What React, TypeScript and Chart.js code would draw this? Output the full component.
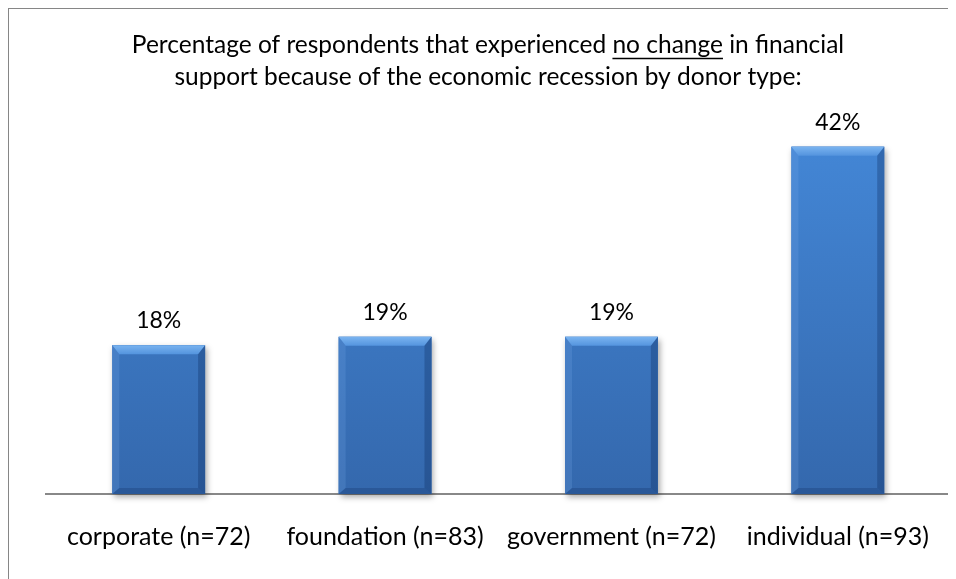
import React, { useEffect, useRef } from 'react';
import { Chart, registerables } from 'chart.js';
Chart.register(...registerables);

const categories = ['corporate (n=72)', 'foundation (n=83)', 'government (n=72)', 'individual (n=93)'];
const values = [18, 19, 19, 42];
const titleLines = [
  'Percentage of respondents that experienced no change in financial',
  'support because of the economic recession by donor type:',
];
const underlinedPhrase = 'no change';
const yMax = 45.1;

const FONT = 'Lato, "Open Sans", sans-serif';
const TITLE_SIZE = 24.5;
const LABEL_SIZE = 25;
const VALUE_SIZE = 23;

const shadowPlugin = {
  id: 'barShadow',
  beforeDatasetsDraw(chart: any) {
    const ctx = chart.ctx;
    const meta = chart.getDatasetMeta(0);
    ctx.save();
    meta.data.forEach((bar: any) => {
      const { x, y, base, width } = bar.getProps(['x', 'y', 'base', 'width'], true);
      ctx.shadowColor = 'rgba(0,0,0,0.35)';
      ctx.shadowBlur = 6;
      ctx.shadowOffsetX = 2;
      ctx.shadowOffsetY = 3;
      ctx.fillStyle = '#3a74c0';
      ctx.fillRect(x - width / 2, y, width, base - y);
    });
    ctx.restore();
  },
};

const bevelPlugin = {
  id: 'bevel',
  afterDatasetsDraw(chart: any) {
    const ctx = chart.ctx;
    const meta = chart.getDatasetMeta(0);
    meta.data.forEach((bar: any, i: number) => {
      const { x, y, base, width } = bar.getProps(['x', 'y', 'base', 'width'], true);
      const l = x - width / 2, r = x + width / 2, t = y, b = base;
      const bt = 9, bs = 7, bb = 6;
      ctx.save();
      const gt = ctx.createLinearGradient(0, t, 0, t + bt);
      gt.addColorStop(0, '#7ab4f0');
      gt.addColorStop(1, '#5494de');
      ctx.fillStyle = gt;
      ctx.beginPath();
      ctx.moveTo(l, t); ctx.lineTo(r, t); ctx.lineTo(r - bs, t + bt); ctx.lineTo(l + bs, t + bt); ctx.closePath();
      ctx.fill();
      ctx.fillStyle = 'rgba(120,170,230,0.22)';
      ctx.beginPath();
      ctx.moveTo(l, t); ctx.lineTo(l + bs, t + bt); ctx.lineTo(l + bs, b - bb); ctx.lineTo(l, b); ctx.closePath();
      ctx.fill();
      ctx.fillStyle = 'rgba(10,40,90,0.3)';
      ctx.beginPath();
      ctx.moveTo(r, t); ctx.lineTo(r - bs, t + bt); ctx.lineTo(r - bs, b - bb); ctx.lineTo(r, b); ctx.closePath();
      ctx.fill();
      ctx.fillStyle = 'rgba(10,40,90,0.25)';
      ctx.beginPath();
      ctx.moveTo(l, b); ctx.lineTo(l + bs, b - bb); ctx.lineTo(r - bs, b - bb); ctx.lineTo(r, b); ctx.closePath();
      ctx.fill();
      ctx.fillStyle = '#000';
      ctx.font = `${VALUE_SIZE}px ${FONT}`;
      ctx.textAlign = 'center';
      ctx.textBaseline = 'alphabetic';
      ctx.fillText(`${values[i]}%`, x, t - 17);
      ctx.restore();
    });
  },
};

const titlePlugin = {
  id: 'customTitle',
  afterDraw(chart: any) {
    const ctx = chart.ctx;
    const cx = chart.width / 2 + 5.5;
    const baselines = [43.5, 76];
    ctx.save();
    ctx.font = `${TITLE_SIZE}px ${FONT}`;
    ctx.fillStyle = '#000';
    ctx.textAlign = 'center';
    ctx.textBaseline = 'alphabetic';
    titleLines.forEach((line, i) => ctx.fillText(line, cx, baselines[i]));
    const line = titleLines[0];
    const idx = line.indexOf(underlinedPhrase);
    if (idx >= 0) {
      const full = ctx.measureText(line).width;
      const pre = ctx.measureText(line.slice(0, idx)).width;
      const w = ctx.measureText(underlinedPhrase).width;
      const sx = cx - full / 2 + pre;
      ctx.strokeStyle = '#000';
      ctx.lineWidth = 1.5;
      ctx.beginPath();
      ctx.moveTo(sx, baselines[0] + 6);
      ctx.lineTo(sx + w, baselines[0] + 6);
      ctx.stroke();
    }
    ctx.restore();
  },
};

export default function App() {
  const ref = useRef<HTMLCanvasElement>(null);
  useEffect(() => {
    const canvas = ref.current;
    if (!canvas) return;
    const chart = new Chart(canvas, {
      type: 'bar',
      data: {
        labels: categories,
        datasets: [
          {
            data: values,
            backgroundColor: (c: any) => {
              const area = c.chart.chartArea;
              if (!area) return '#3a76c4';
              const g = c.chart.ctx.createLinearGradient(0, area.top, 0, area.bottom);
              g.addColorStop(0, '#4488d8');
              g.addColorStop(1, '#3468ad');
              return g;
            },
            borderWidth: 0,
            barPercentage: 0.41,
            categoryPercentage: 1,
          },
        ],
      },
      options: {
        animation: false,
        responsive: false,
        maintainAspectRatio: false,
        layout: { padding: { left: 0, right: 5, top: 112, bottom: 0 } },
        plugins: {
          legend: { display: false },
          tooltip: { enabled: false },
          title: { display: false },
        },
        scales: {
          x: {
            grid: { display: false, drawTicks: false },
            border: { display: true, color: '#888888', width: 2 },
            ticks: { color: '#000', font: { family: FONT, size: LABEL_SIZE, lineHeight: 24 / LABEL_SIZE }, padding: 31, maxRotation: 0, autoSkip: false },
            afterFit: (s: any) => { s.height = 85; s.paddingLeft = 0; s.paddingRight = 3; },
          },
          y: {
            display: true,
            min: 0,
            max: yMax,
            grid: { display: false, drawTicks: false },
            border: { display: false },
            ticks: { display: false },
            afterFit: (s: any) => { s.width = 36.5; s.paddingTop = 0; s.paddingBottom = 0; },
          },
        },
      },
      plugins: [shadowPlugin, bevelPlugin, titlePlugin],
    } as any);
    return () => chart.destroy();
  }, []);
  return (
    <div style={{ width: 947, height: 571, borderTop: '1px solid #868686', borderLeft: '1px solid #868686', background: '#fff', overflow: 'hidden' }}>
      <canvas ref={ref} width={947} height={570} style={{ display: 'block', width: 947, height: 570 }} />
    </div>
  );
}
